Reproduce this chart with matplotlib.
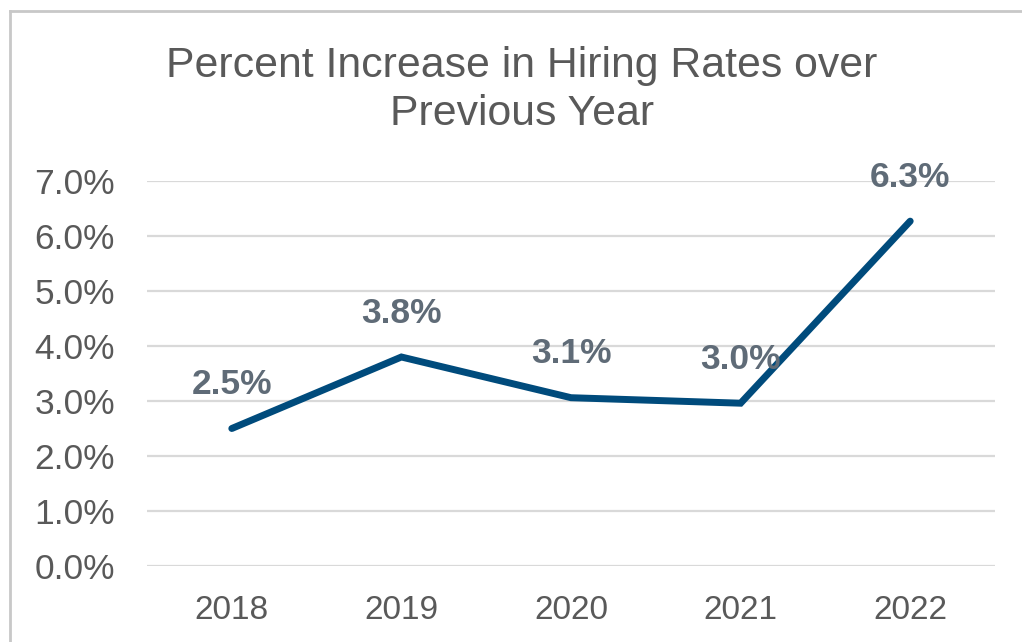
import matplotlib
matplotlib.use("Agg")
import matplotlib.pyplot as plt
from matplotlib.lines import Line2D

years = ["2018", "2019", "2020", "2021", "2022"]
pct_increase = [2.5, 3.8, 3.06, 2.96, 6.27]
y_ticks = [0, 1, 2, 3, 4, 5, 6, 7]

plt.rcParams["font.family"] = ["Liberation Sans", "DejaVu Sans"]

W, H = 1022, 642
fig = plt.figure(figsize=(W / 100, H / 100), dpi=100)
ax = fig.add_axes([147 / W, 1 - 566 / H, (995 - 147) / W, (566 - 181) / H])

x = list(range(len(years)))
ax.plot(x, pct_increase, color="#004b7c", lw=5, solid_capstyle="round",
        solid_joinstyle="miter", zorder=3)
for xi, v in zip(x, pct_increase):
    ax.annotate(f"{v:.1f}%", (xi, v), xytext=(0, 31.5), textcoords="offset points",
                ha="center", va="center", fontsize=25.5, fontweight="bold",
                color="#5f6b77", zorder=4)

ax.set_xlim(-0.5, len(years) - 0.5)
ax.set_ylim(0, 7)
ax.set_yticks(y_ticks)
ax.set_yticklabels([f"{t:.1f}%" for t in y_ticks])
ax.set_xticks(x)
ax.set_xticklabels(years)
ax.grid(axis="y", color="#d9d9d9", lw=1.6)
ax.set_axisbelow(True)
for s in ax.spines.values():
    s.set_visible(False)
ax.tick_params(axis="both", length=0, labelcolor="#595959")
ax.tick_params(axis="y", labelsize=25.5, pad=23)
ax.tick_params(axis="x", labelsize=24, pad=21)

fig.text(522 / W, 1 - 90 / H, "Percent Increase in Hiring Rates over\nPrevious Year",
         ha="center", va="center", fontsize=30.8, color="#595959", linespacing=1.28)

# outer frame (top and left edges visible)
fig.add_artist(Line2D([10 / W, 1], [1 - 11 / H, 1 - 11 / H], color="#c8c8c8", lw=2,
                      transform=fig.transFigure))
fig.add_artist(Line2D([10 / W, 10 / W], [0, 1 - 11 / H], color="#c8c8c8", lw=2,
                      transform=fig.transFigure))

fig.savefig("out.png", dpi=100)
